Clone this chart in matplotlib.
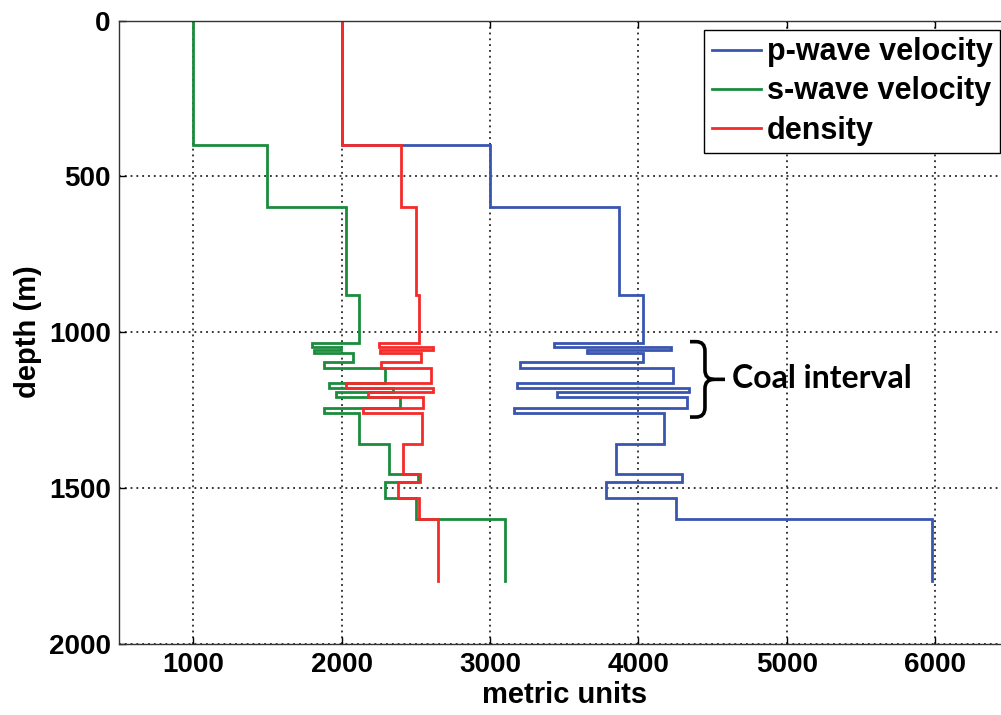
import numpy as np
import matplotlib
matplotlib.use("Agg")
import matplotlib.pyplot as plt
from matplotlib.path import Path
from matplotlib.patches import PathPatch

plt.rcParams["font.family"] = ["Liberation Sans", "DejaVu Sans"]
plt.rcParams["font.weight"] = "bold"

# layer tops (m), last entry is the bottom of the model
depth_bounds = [0, 400, 600, 880, 1035, 1049, 1059, 1067, 1095, 1114, 1165,
                1181, 1194, 1210, 1243, 1259, 1361, 1455, 1480, 1533, 1600, 1800]

p_wave = [2000, 3000, 3870, 4030, 3430, 4220, 3650, 4030, 3200, 4230, 3180,
          4340, 3450, 4330, 3160, 4170, 3850, 4290, 3780, 4250, 5980]
s_wave = [1000, 1500, 2030, 2115, 1800, 1996, 1816, 2074, 1883, 2294, 1917,
          2348, 1962, 2393, 1883, 2115, 2321, 2512, 2294, 2500, 3100]
density = [2000, 2400, 2500, 2520, 2249, 2613, 2256, 2535, 2265, 2602, 2030,
           2618, 2175, 2551, 2142, 2542, 2411, 2528, 2377, 2520, 2650]

labels = ["p-wave velocity", "s-wave velocity", "density"]
colors = ["#3a55b0", "#1b8c3c", "#f52a2a"]
x_ticks = [1000, 2000, 3000, 4000, 5000, 6000]
y_ticks = [0, 500, 1000, 1500, 2000]


def blocky(values, bounds):
    # turn layer values into a step profile (value vs depth)
    b = np.asarray(bounds)
    ys = np.column_stack([b[:-1], b[1:]]).ravel()
    xs = np.repeat(values, 2)
    return xs, ys


fig = plt.figure(figsize=(10.01, 7.15), dpi=100)
ax = fig.add_axes([0.1189, 0.1, 0.8896, 0.8713])

for vals, lab, c in zip([p_wave, s_wave, density], labels, colors):
    xs, ys = blocky(vals, depth_bounds)
    ax.plot(xs, ys, color=c, lw=2.0, label=lab, solid_joinstyle="miter")

ax.set_xlim(500, 6500)
ax.set_ylim(2000, 0)
ax.set_xticks(x_ticks)
ax.set_yticks(y_ticks)
ax.grid(True, color="black", linestyle=(0, (1.2, 2.6)), linewidth=1.1)
ax.tick_params(direction="in", top=True, right=True, length=5, width=1,
               labelsize=20, pad=6)
for s in ax.spines.values():
    s.set_linewidth(1.0)
    s.set_color("#333333")

ax.set_xlabel("metric units", fontsize=21, fontweight="bold", labelpad=2)
ax.set_ylabel("depth (m)", fontsize=21, fontweight="bold", labelpad=5)

leg = ax.legend(loc="upper right", fontsize=22, frameon=True, fancybox=False,
                edgecolor="black", framealpha=1, handlelength=1.6,
                handletextpad=0.2, labelspacing=0.3, borderpad=0.25,
                borderaxespad=0.3)
leg.get_frame().set_linewidth(1.0)
for t in leg.get_texts():
    t.set_fontweight("bold")

# curly brace marking the coal interval
yT, yM, yB = 1031, 1152, 1273
xL, xS, xT = 4347, 4448, 4583
rx, ry = 60, 30
upper = [(xL, yT), (xS - rx, yT), (xS, yT), (xS, yT + ry), (xS, yM - ry),
         (xS, yM), (xS + rx, yM), (xT, yM)]
lower = [(xL, yB), (xS - rx, yB), (xS, yB), (xS, yB - ry), (xS, yM + ry),
         (xS, yM), (xS + rx, yM)]
codes_u = [Path.MOVETO, Path.LINETO, Path.CURVE3, Path.CURVE3, Path.LINETO,
           Path.CURVE3, Path.CURVE3, Path.LINETO]
codes_l = [Path.MOVETO, Path.LINETO, Path.CURVE3, Path.CURVE3, Path.LINETO,
           Path.CURVE3, Path.CURVE3]
for verts, codes in [(upper, codes_u), (lower, codes_l)]:
    ax.add_patch(PathPatch(Path(verts, codes), facecolor="none",
                           edgecolor="black", lw=2.6, capstyle="butt"))

ax.text(4628, 1150, "Coal interval", fontsize=23, fontweight="bold",
        family=["Lato", "DejaVu Sans"], va="center", ha="left")

fig.savefig("out.png", dpi=100)
